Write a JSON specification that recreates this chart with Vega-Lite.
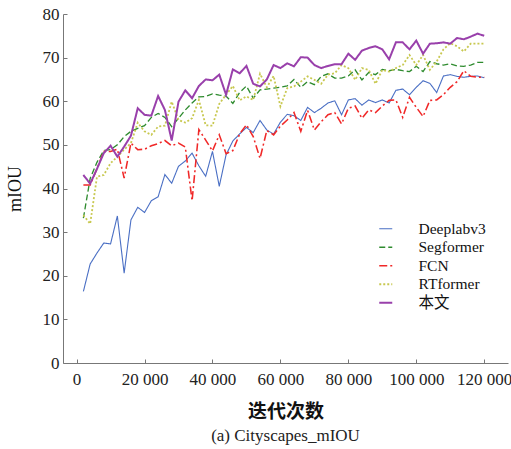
{
  "$schema": "https://vega.github.io/schema/vega-lite/v6.json",
  "width": 445,
  "height": 349,
  "autosize": {"type": "none"},
  "padding": {"left": 63, "top": 14, "right": 3, "bottom": 86},
  "background": "white",
  "config": {
    "view": {"stroke": null},
    "font": "Liberation Serif",
    "axis": {"grid": false, "domainColor": "#777", "tickColor": "#777", "labelColor": "#222", "titleColor": "#111", "labelFont": "Liberation Serif", "labelFontSize": 17},
    "legend": {"padding": 0, "labelFont": "Liberation Serif, Noto Sans CJK SC", "labelFontSize": 15.5, "labelColor": "#111", "rowPadding": 1.5, "labelOffset": 25, "symbolType": "M-1.3,0H1.3", "symbolSize": 100, "symbolStrokeWidth": 1.8}
  },
  "title": {"text": "(a) Cityscapes_mIOU", "orient": "bottom", "font": "Liberation Serif", "fontSize": 17, "fontWeight": "normal", "color": "#222", "offset": 7, "anchor": "middle"},
  "data": {"values": [
    {"iter": 2000, "Deeplabv3": 16.4, "Segformer": 33.2, "FCN": 40.8, "RTformer": 33.9, "本文": 43.1},
    {"iter": 4000, "Deeplabv3": 22.7, "Segformer": 42.3, "FCN": 40.8, "RTformer": 31.9, "本文": 41.1},
    {"iter": 6000, "Deeplabv3": 25.2, "Segformer": 46.0, "FCN": 44.5, "RTformer": 42.7, "本文": 44.5},
    {"iter": 8000, "Deeplabv3": 27.5, "Segformer": 48.7, "FCN": 48.5, "RTformer": 43.1, "本文": 48.1},
    {"iter": 10000, "Deeplabv3": 27.3, "Segformer": 48.9, "FCN": 48.5, "RTformer": 45.8, "本文": 49.8},
    {"iter": 12000, "Deeplabv3": 33.7, "Segformer": 50.0, "FCN": 49.0, "RTformer": 47.3, "本文": 47.3},
    {"iter": 14000, "Deeplabv3": 20.6, "Segformer": 51.9, "FCN": 42.4, "RTformer": 48.9, "本文": 49.6},
    {"iter": 16000, "Deeplabv3": 32.8, "Segformer": 53.1, "FCN": 50.4, "RTformer": 50.4, "本文": 52.1},
    {"iter": 18000, "Deeplabv3": 35.7, "Segformer": 53.8, "FCN": 48.9, "RTformer": 55.1, "本文": 58.4},
    {"iter": 20000, "Deeplabv3": 34.5, "Segformer": 54.4, "FCN": 49.0, "RTformer": 53.1, "本文": 56.9},
    {"iter": 22000, "Deeplabv3": 37.2, "Segformer": 56.3, "FCN": 49.8, "RTformer": 52.3, "本文": 56.7},
    {"iter": 24000, "Deeplabv3": 38.1, "Segformer": 57.2, "FCN": 50.3, "RTformer": 54.2, "本文": 61.2},
    {"iter": 26000, "Deeplabv3": 43.2, "Segformer": 56.3, "FCN": 51.0, "RTformer": 54.4, "本文": 58.0},
    {"iter": 28000, "Deeplabv3": 41.2, "Segformer": 54.2, "FCN": 49.8, "RTformer": 59.9, "本文": 51.0},
    {"iter": 30000, "Deeplabv3": 45.1, "Segformer": 56.1, "FCN": 50.4, "RTformer": 55.7, "本文": 59.9},
    {"iter": 32000, "Deeplabv3": 46.3, "Segformer": 58.0, "FCN": 49.5, "RTformer": 55.1, "本文": 62.5},
    {"iter": 34000, "Deeplabv3": 48.1, "Segformer": 59.6, "FCN": 37.2, "RTformer": 56.1, "本文": 60.7},
    {"iter": 36000, "Deeplabv3": 45.2, "Segformer": 61.0, "FCN": 53.5, "RTformer": 60.3, "本文": 63.5},
    {"iter": 38000, "Deeplabv3": 42.8, "Segformer": 61.1, "FCN": 51.1, "RTformer": 54.5, "本文": 65.0},
    {"iter": 40000, "Deeplabv3": 48.5, "Segformer": 61.7, "FCN": 48.6, "RTformer": 54.4, "本文": 64.8},
    {"iter": 42000, "Deeplabv3": 40.5, "Segformer": 61.4, "FCN": 52.3, "RTformer": 59.4, "本文": 66.1},
    {"iter": 44000, "Deeplabv3": 47.7, "Segformer": 61.2, "FCN": 48.0, "RTformer": 61.5, "本文": 61.5},
    {"iter": 46000, "Deeplabv3": 50.9, "Segformer": 59.5, "FCN": 48.7, "RTformer": 63.5, "本文": 67.3},
    {"iter": 48000, "Deeplabv3": 52.5, "Segformer": 62.0, "FCN": 52.5, "RTformer": 60.2, "本文": 66.4},
    {"iter": 50000, "Deeplabv3": 54.0, "Segformer": 63.5, "FCN": 54.6, "RTformer": 61.1, "本文": 68.1},
    {"iter": 52000, "Deeplabv3": 52.8, "Segformer": 60.7, "FCN": 51.9, "RTformer": 60.3, "本文": 64.0},
    {"iter": 54000, "Deeplabv3": 55.6, "Segformer": 62.6, "FCN": 46.9, "RTformer": 66.3, "本文": 63.4},
    {"iter": 56000, "Deeplabv3": 53.4, "Segformer": 62.8, "FCN": 53.3, "RTformer": 63.2, "本文": 65.0},
    {"iter": 58000, "Deeplabv3": 52.5, "Segformer": 63.0, "FCN": 52.3, "RTformer": 65.8, "本文": 68.3},
    {"iter": 60000, "Deeplabv3": 55.2, "Segformer": 63.2, "FCN": 54.3, "RTformer": 58.8, "本文": 67.6},
    {"iter": 62000, "Deeplabv3": 57.0, "Segformer": 63.5, "FCN": 55.7, "RTformer": 63.0, "本文": 68.7},
    {"iter": 64000, "Deeplabv3": 56.7, "Segformer": 65.0, "FCN": 57.4, "RTformer": 63.4, "本文": 68.0},
    {"iter": 66000, "Deeplabv3": 55.6, "Segformer": 63.2, "FCN": 53.1, "RTformer": 64.5, "本文": 70.1},
    {"iter": 68000, "Deeplabv3": 58.6, "Segformer": 64.5, "FCN": 57.9, "RTformer": 65.7, "本文": 70.0},
    {"iter": 70000, "Deeplabv3": 57.4, "Segformer": 63.8, "FCN": 53.4, "RTformer": 64.9, "本文": 68.3},
    {"iter": 72000, "Deeplabv3": 58.4, "Segformer": 65.7, "FCN": 55.3, "RTformer": 64.0, "本文": 67.6},
    {"iter": 74000, "Deeplabv3": 59.6, "Segformer": 66.3, "FCN": 56.9, "RTformer": 66.1, "本文": 68.1},
    {"iter": 76000, "Deeplabv3": 60.1, "Segformer": 65.3, "FCN": 57.4, "RTformer": 66.4, "本文": 68.5},
    {"iter": 78000, "Deeplabv3": 56.9, "Segformer": 65.3, "FCN": 54.8, "RTformer": 68.3, "本文": 68.5},
    {"iter": 80000, "Deeplabv3": 60.3, "Segformer": 65.8, "FCN": 58.4, "RTformer": 67.6, "本文": 70.9},
    {"iter": 82000, "Deeplabv3": 60.6, "Segformer": 67.2, "FCN": 58.9, "RTformer": 64.9, "本文": 69.5},
    {"iter": 84000, "Deeplabv3": 59.1, "Segformer": 64.9, "FCN": 56.1, "RTformer": 67.6, "本文": 71.6},
    {"iter": 86000, "Deeplabv3": 60.3, "Segformer": 66.6, "FCN": 58.0, "RTformer": 67.2, "本文": 72.2},
    {"iter": 88000, "Deeplabv3": 59.7, "Segformer": 66.1, "FCN": 57.4, "RTformer": 64.0, "本文": 72.6},
    {"iter": 90000, "Deeplabv3": 60.3, "Segformer": 67.3, "FCN": 58.9, "RTformer": 67.2, "本文": 71.9},
    {"iter": 92000, "Deeplabv3": 59.6, "Segformer": 67.0, "FCN": 60.2, "RTformer": 66.8, "本文": 69.6},
    {"iter": 94000, "Deeplabv3": 62.5, "Segformer": 67.3, "FCN": 60.3, "RTformer": 67.6, "本文": 73.5},
    {"iter": 96000, "Deeplabv3": 62.8, "Segformer": 67.0, "FCN": 56.3, "RTformer": 68.3, "本文": 73.5},
    {"iter": 98000, "Deeplabv3": 61.5, "Segformer": 66.8, "FCN": 60.9, "RTformer": 70.6, "本文": 71.9},
    {"iter": 100000, "Deeplabv3": 63.2, "Segformer": 68.0, "FCN": 58.6, "RTformer": 68.3, "本文": 73.9},
    {"iter": 102000, "Deeplabv3": 64.7, "Segformer": 66.8, "FCN": 56.5, "RTformer": 70.6, "本文": 70.9},
    {"iter": 104000, "Deeplabv3": 64.1, "Segformer": 69.1, "FCN": 60.2, "RTformer": 67.2, "本文": 73.2},
    {"iter": 106000, "Deeplabv3": 62.0, "Segformer": 68.6, "FCN": 60.3, "RTformer": 69.1, "本文": 73.3},
    {"iter": 108000, "Deeplabv3": 65.8, "Segformer": 68.3, "FCN": 61.5, "RTformer": 71.9, "本文": 73.5},
    {"iter": 110000, "Deeplabv3": 66.1, "Segformer": 68.6, "FCN": 63.2, "RTformer": 73.3, "本文": 73.2},
    {"iter": 112000, "Deeplabv3": 65.7, "Segformer": 68.1, "FCN": 64.5, "RTformer": 72.6, "本文": 74.5},
    {"iter": 114000, "Deeplabv3": 65.5, "Segformer": 68.0, "FCN": 67.0, "RTformer": 71.4, "本文": 74.2},
    {"iter": 116000, "Deeplabv3": 65.7, "Segformer": 68.3, "FCN": 65.7, "RTformer": 73.2, "本文": 74.8},
    {"iter": 118000, "Deeplabv3": 65.8, "Segformer": 68.9, "FCN": 65.5, "RTformer": 73.2, "本文": 75.5},
    {"iter": 120000, "Deeplabv3": 65.4, "Segformer": 68.9, "FCN": 65.5, "RTformer": 73.2, "本文": 75.0}
  ]},
  "transform": [{"fold": ["Deeplabv3", "Segformer", "FCN", "RTformer", "本文"], "as": ["series", "miou"]}],
  "mark": {"type": "line"},
  "encoding": {
    "x": {
      "field": "iter", "type": "quantitative",
      "scale": {"domain": [-4000, 127000], "nice": false, "zero": false},
      "axis": {
        "values": [0, 20000, 40000, 60000, 80000, 100000, 120000],
        "labelExpr": "datum.value == 0 ? '0' : format(datum.value / 1000, 'd') + ' 000'",
        "tickSize": -4, "labelPadding": 12, "labelFlush": false, "labelOverlap": false,
        "title": "迭代次数", "titleFont": "Noto Sans CJK SC", "titleFontWeight": "bold", "titleFontSize": 19, "titlePadding": 15
      }
    },
    "y": {
      "field": "miou", "type": "quantitative",
      "scale": {"domain": [0, 80], "nice": false},
      "axis": {
        "values": [0, 10, 20, 30, 40, 50, 60, 70, 80],
        "tickSize": -4, "labelPadding": 8,
        "title": "mIOU", "titleFont": "Liberation Serif", "titleFontWeight": "normal", "titleFontSize": 18, "titlePadding": 18
      }
    },
    "color": {
      "field": "series", "type": "nominal", "title": null,
      "scale": {"domain": ["Deeplabv3", "Segformer", "FCN", "RTformer", "本文"], "range": ["#4a6fc4", "#2e8b2e", "#f02828", "#c8c850", "#9940ab"]},
      "legend": {"orient": "none", "legendX": 315, "legendY": 207, "title": null}
    },
    "strokeDash": {
      "field": "series", "type": "nominal", "title": null,
      "scale": {"domain": ["Deeplabv3", "Segformer", "FCN", "RTformer", "本文"], "range": [[1, 0], [6, 3], [8, 3, 2, 3], [2, 2], [1, 0]]}
    },
    "strokeWidth": {
      "field": "series", "type": "nominal", "title": null,
      "scale": {"domain": ["Deeplabv3", "Segformer", "FCN", "RTformer", "本文"], "range": [1.1, 2, 1.7, 1.5, 2]}
    }
  }
}
